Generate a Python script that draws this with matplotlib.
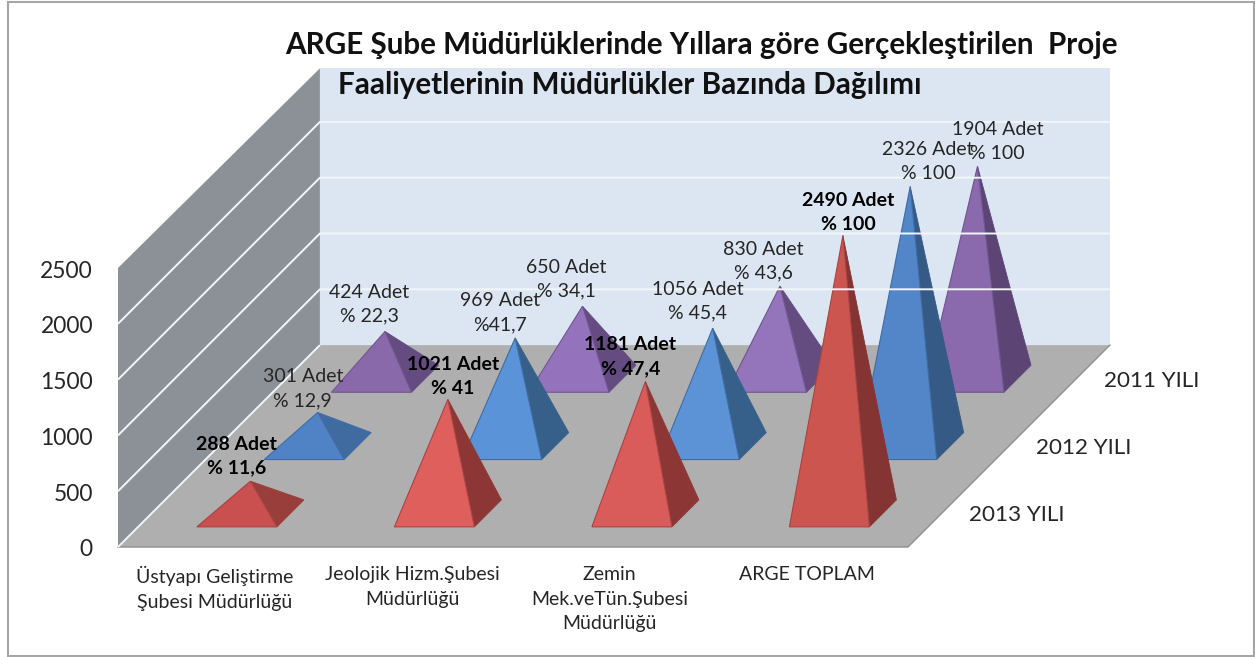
import matplotlib
matplotlib.use('Agg')
import matplotlib.pyplot as plt
from matplotlib.patches import Polygon, Rectangle

plt.rcParams['font.family'] = ['Lato', 'DejaVu Sans']

categories = ['Üstyapı Geliştirme\nŞubesi Müdürlüğü', 'Jeolojik Hizm.Şubesi\nMüdürlüğü',
              'Zemin\nMek.veTün.Şubesi\nMüdürlüğü', 'ARGE TOPLAM']
years = ['2013 YILI', '2012 YILI', '2011 YILI']
values_2013 = [288, 1021, 1181, 2490]
values_2012 = [301, 969, 1056, 2326]
values_2011 = [424, 650, 830, 1904]
pct_2013 = ['% 11,6', '% 41', '% 47,4', '% 100']
pct_2012 = ['% 12,9', '%41,7', '% 45,4', '% 100']
pct_2011 = ['% 22,3', '% 34,1', '% 43,6', '% 100']
yticks = [0, 500, 1000, 1500, 2000, 2500]

# chart box in pixels, oblique projection
X0, Y0 = 118, 547
CAT_W = 197.5
ROW_D = 67.3
Y_SCALE = 279 / 2500

# label centre relative to the apex, one row per series
label_off = [[(-14, -25), (5, -23), (-15, -25), (5, -23)],
             [(-15, -24), (-15, -25), (-15, -27), (18, -25)],
             [(-16, -27), (-16, -27), (-17, -25), (20, -25)]]

# the lighting changes a bit from pyramid to pyramid
front_cols = [['#C9504F', '#DF5F5D', '#DA5C5A', '#CD5550'],
              ['#4F83C6', '#5A93D8', '#5C93D6', '#5386C8'],
              ['#8A69AB', '#9573BC', '#9474BB', '#8A6AAC']]
side_cols = [['#9A3E3C', '#8C3735', '#8C3735', '#843433'],
             ['#3F6BA0', '#366089', '#366089', '#355A85'],
             ['#654C80', '#654C80', '#654C80', '#5C4575']]
edge_cols = ['#A84442', '#3F6CA3', '#6F5590']


def project(cat, depth, value=0):
    # cat and depth in category/row units, value in chart units
    return (X0 + cat * CAT_W + depth * ROW_D, Y0 - depth * ROW_D - value * Y_SCALE)


fig = plt.figure(figsize=(12.55, 6.57), dpi=100)
ax = fig.add_axes([0, 0, 1, 1])
ax.set_xlim(0, 1255)
ax.set_ylim(657, 0)
ax.axis('off')

ax.add_patch(Rectangle((8, 2), 1246, 654, fill=False, edgecolor='#A6A6A6', linewidth=1.5))

# walls and floor
ax.add_patch(Polygon([project(0, 0), project(0, 3), project(0, 3, 2480), project(0, 0, 2500)],
                     facecolor='#8C9198', edgecolor='none'))
ax.add_patch(Polygon([project(0, 3), project(4, 3), project(4, 3, 2480), project(0, 3, 2480)],
                     facecolor='#DCE6F2', edgecolor='none'))
ax.add_patch(Polygon([project(0, 0), project(4, 0), project(4, 3), project(0, 3)],
                     facecolor='#AFAFAF', edgecolor='none'))
ax.plot(*zip(project(0, 0), project(4, 0), project(4, 3)), color='#8F8F8F', lw=1)
for v in yticks[:-1]:
    pts = [project(0, 0, v), project(0, 3, v), project(4, 3, v)]
    if v == 0:
        pts = pts[:2]
    ax.plot(*zip(*pts), color='#F2F5FA', lw=1.4, solid_capstyle='butt')

series = [values_2013, values_2012, values_2011]
pcts = [pct_2013, pct_2012, pct_2011]

# back row first so the front pyramids overlap it
for row in [2, 1, 0]:
    for c, v in enumerate(series[row]):
        cx = c + 0.5
        d = row + 0.5
        half_w = 40 / CAT_W
        half_d = 13.5 / ROW_D
        apex = project(cx, d, v)
        fl = project(cx - half_w, d - half_d)
        fr = project(cx + half_w, d - half_d)
        br = project(cx + half_w, d + half_d)
        ax.add_patch(Polygon([fr, br, apex], facecolor=side_cols[row][c], edgecolor=side_cols[row][c], lw=0.6))
        ax.add_patch(Polygon([fl, fr, apex], facecolor=front_cols[row][c], edgecolor=edge_cols[row], lw=0.8))

for row in [2, 1, 0]:
    for c, v in enumerate(series[row]):
        ax_, ay_ = project(c + 0.5, row + 0.5, v)
        dx, dy = label_off[row][c]
        ax.text(ax_ + dx, ay_ + dy, '{} Adet\n{}'.format(v, pcts[row][c]), ha='center', va='center',
                fontsize=14, color='black' if row == 0 else '#262626', linespacing=1.49,
                fontweight='bold' if row == 0 else 'normal')

for v in yticks:
    x, y = project(0, 0, v)
    ax.text(93, y + 3, str(v), ha='right', va='center', fontsize=16.4, color='#262626')

for c, name in enumerate(categories):
    x, y = project(c + 0.5, 0)
    ax.text(x - 2, 566, name, ha='center', va='top', fontsize=14, color='#262626', linespacing=1.55)

for row, name in enumerate(years):
    x, y = project(4, row + 0.5)
    ax.text(x + 75, y + 2, name, ha='center', va='center', fontsize=16.2, color='#262626')

ax.text(285, 45, 'ARGE Şube Müdürlüklerinde Yıllara göre Gerçekleştirilen  Proje', ha='left', va='center',
        fontsize=21.3, fontweight='bold', color='#111111')
ax.text(338, 85, 'Faaliyetlerinin Müdürlükler Bazında Dağılımı', ha='left', va='center',
        fontsize=21.3, fontweight='bold', color='#111111')

fig.savefig('out.png', dpi=100)
